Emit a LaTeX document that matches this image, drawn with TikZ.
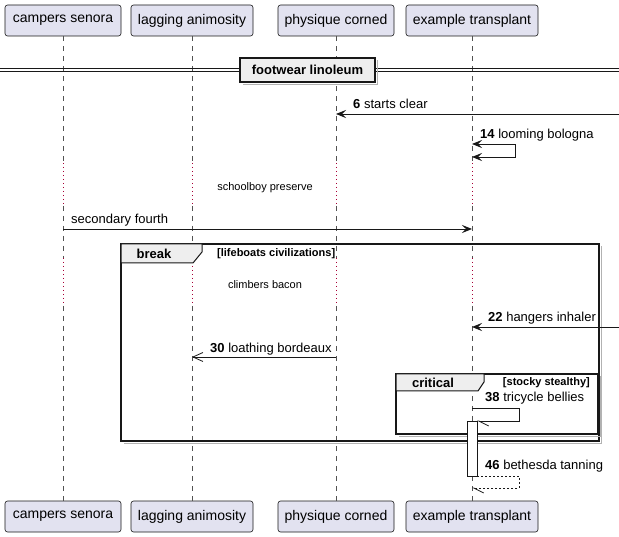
\documentclass[tikz,border=0pt]{standalone}
\usepackage{fontspec}
\setmainfont{Liberation Sans}
\usetikzlibrary{arrows.meta}
\definecolor{partfill}{HTML}{E2E2F0}
\definecolor{lineblk}{HTML}{181818}
\definecolor{delaycol}{HTML}{A80036}
\definecolor{tabfill}{HTML}{EEEEEE}
\begin{document}
\begin{tikzpicture}[x=1pt,y=-1pt,
  part/.style={draw=lineblk, fill=partfill, rounded corners=2.5pt, minimum height=31pt, inner sep=0pt, font=\fontsize{14}{16}\selectfont, line width=0.6pt},
  life/.style={draw=lineblk!75, dash pattern=on 5pt off 5pt, line width=0.5pt},
  delayline/.style={draw=delaycol, dash pattern=on 1pt off 3pt, line width=0.9pt},
  msg/.style={draw=lineblk, line width=0.9pt},
  lbl/.style={font=\fontsize{13}{15}\selectfont, inner sep=0pt, anchor=west},
  smalltxt/.style={font=\fontsize{11}{13}\selectfont, inner sep=0pt},
  guard/.style={font=\bfseries\fontsize{11}{13}\selectfont, inner sep=0pt},
  kw/.style={font=\bfseries\fontsize{13}{15}\selectfont, inner sep=0pt},
  frame/.style={draw=lineblk, line width=1.5pt},
  shadowline/.style={draw=gray!60, line width=1.5pt},
  tab/.style={fill=tabfill, draw=lineblk, line width=1pt},
  fullarrow/.style={-{Stealth[length=10pt,width=8pt,inset=4pt]}},
  openarrow/.style={-{Straight Barb[length=10pt,width=9pt,line width=0.8pt]}},
  halfarrow/.style={-{Straight Barb[harpoon,length=10pt,width=10pt,line width=0.8pt]}}
]
\useasboundingbox (0,0) rectangle (619,537);
\fill[white] (0,0) rectangle (619,537);

% participants
\node[part, minimum width=116pt] (ta) at (63,20.5) {campers senora};
\node[part, minimum width=122pt] (tb) at (192,20.5) {lagging animosity};
\node[part, minimum width=116pt] (tc) at (336,20.5) {physique corned};
\node[part, minimum width=132pt] (td) at (472,20.5) {example transplant};
\node[part, minimum width=116pt] (ba) at (63,516.5) {campers senora};
\node[part, minimum width=122pt] (bb) at (192,516.5) {lagging animosity};
\node[part, minimum width=116pt] (bc) at (336,516.5) {physique corned};
\node[part, minimum width=132pt] (bd) at (472,516.5) {example transplant};

% lifelines
\foreach \n/\x in {a/63,b/192,c/336,d/472}{
  \draw[life] (t\n.south) -- (\x,163);
  \draw[delayline] (\x,163) -- (\x,206);
  \draw[life] (\x,206) -- (\x,258);
  \draw[delayline] (\x,258) -- (\x,306);
  \draw[life] (\x,306) -- (b\n.north);
}

% divider
\draw[lineblk, line width=1pt] (0,69) -- (619,69);
\draw[lineblk, line width=1pt] (0,72) -- (619,72);
\draw[shadowline] (377.5,60.5) -- (377.5,84.5) -- (242.5,84.5);
\node[draw=lineblk, fill=tabfill, line width=1.5pt, minimum width=135pt, minimum height=24pt, inner sep=0pt, font=\bfseries\fontsize{13}{15}\selectfont] (div) at (307.5,70) {footwear linoleum};

% message 6
\coordinate (m6s) at (619,114);
\coordinate (m6e) at (336,114);
\draw[msg, fullarrow] (m6s) -- (m6e);
\node[lbl] (l6) at (353,104) {\textbf{6} starts clear};

% message 14
\coordinate (m14a) at (472,144);
\coordinate (m14b) at (515,144);
\coordinate (m14c) at (515,157);
\coordinate (m14d) at (472,157);
\draw[msg, {Stealth[length=10pt,width=8pt,inset=4pt]}-{Stealth[length=10pt,width=8pt,inset=4pt]}] (m14a) -- (m14b) -- (m14c) -- (m14d);
\node[lbl] (l14) at (480,135) {\textbf{14} looming bologna};

% delay 1
\node[smalltxt] (d1) at (265,188) {schoolboy preserve};

% secondary fourth
\coordinate (msfs) at (63,229);
\coordinate (msfe) at (472,229);
\draw[msg, fullarrow] (msfs) -- (msfe);
\node[lbl] (lsf) at (71,220) {secondary fourth};

% break frame
\draw[shadowline] (601.5,246.5) -- (601.5,443.5) -- (123.5,443.5);
\draw[frame] (121,244) rectangle (599,441);
\draw[tab] (121,244) -- (202,244) -- (202,252) -- (193,263) -- (121,263) -- cycle;
\node[kw] (kbreak) at (154,254) {break};
\node[guard, anchor=west] (gbreak) at (217,254) {[lifeboats civilizations]};

% delay 2
\node[smalltxt] (d2) at (265,285) {climbers bacon};

% message 22
\coordinate (m22s) at (619,327);
\coordinate (m22e) at (472,327);
\draw[msg, fullarrow] (m22s) -- (m22e);
\node[lbl] (l22) at (488,318) {\textbf{22} hangers inhaler};

% message 30
\coordinate (m30s) at (336,357);
\coordinate (m30e) at (192,357);
\draw[msg, openarrow] (m30s) -- (m30e);
\node[lbl] (l30) at (210,349) {\textbf{30} loathing bordeaux};

% critical frame
\draw[shadowline] (600.5,376.5) -- (600.5,436.5) -- (398.5,436.5);
\draw[frame] (396,374) rectangle (598,434);
\draw[tab] (396,374) -- (484,374) -- (484,382) -- (478,391) -- (396,391) -- cycle;
\node[kw] (kcrit) at (433,382.5) {critical};
\node[guard, anchor=east] (gcrit) at (590,382.5) {[stocky stealthy]};

% activation
\node[draw=lineblk, fill=white, line width=0.9pt, minimum width=10pt, minimum height=55pt, inner sep=0pt] (act) at (472,448.5) {};

% message 38
\coordinate (m38a) at (472,408);
\coordinate (m38b) at (519,408);
\coordinate (m38c) at (519,421);
\coordinate (m38d) at (477,421);
\draw[msg, halfarrow] (m38a) -- (m38b) -- (m38c) -- (m38d);
\node[lbl] (l38) at (485,398) {\textbf{38} tricycle bellies};

% message 46
\coordinate (m46a) at (477,476);
\coordinate (m46b) at (519,476);
\coordinate (m46c) at (519,488);
\coordinate (m46d) at (472,488);
\draw[msg, dash pattern=on 2pt off 2pt, halfarrow] (m46a) -- (m46b) -- (m46c) -- (m46d);
\node[lbl] (l46) at (485,466) {\textbf{46} bethesda tanning};
\end{tikzpicture}
\end{document}
